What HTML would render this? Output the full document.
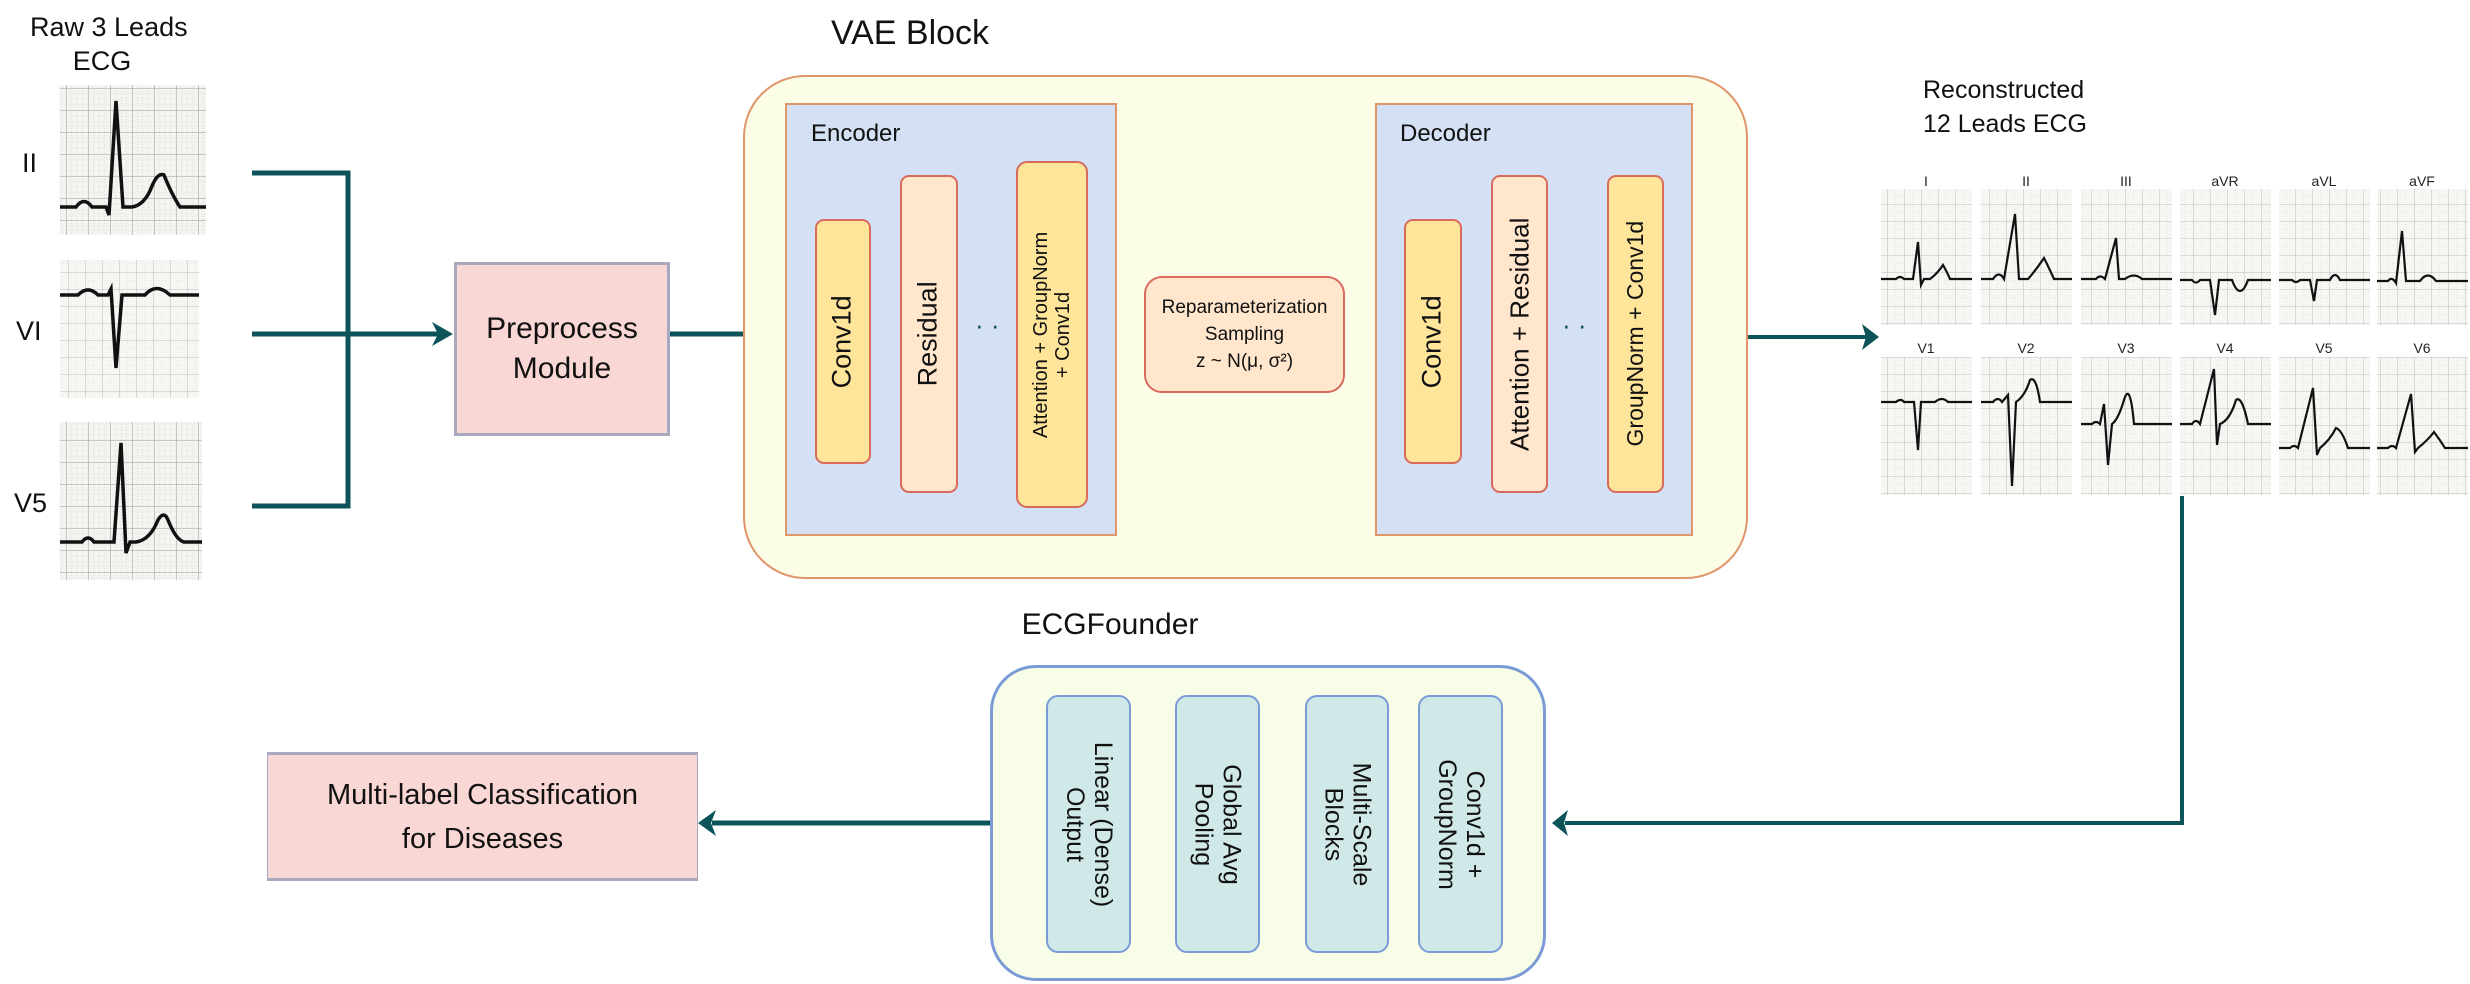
<!DOCTYPE html>
<html><head><meta charset="utf-8"><style>
body{margin:0;width:2470px;height:984px;background:#fff;position:relative;overflow:hidden;font-family:"Liberation Sans",sans-serif;color:#111}
.a{position:absolute;box-sizing:border-box}
.t{position:absolute;text-align:center;white-space:nowrap}
.rot{position:absolute;box-sizing:border-box;display:flex;align-items:center;justify-content:center}
.rot span{display:block;transform:rotate(-90deg);white-space:nowrap;text-align:center;line-height:1.1}
.rotc span{transform:rotate(90deg)}
</style></head><body>
<svg class="a" style="left:0;top:0" width="2470" height="984" viewBox="0 0 2470 984">
<defs>
<pattern id="g" width="22" height="22" patternUnits="userSpaceOnUse">
<rect width="22" height="22" fill="#f4f4f0"/>
<path d="M0 0H22M0 0V22" stroke="#999" stroke-width="1"/>
<path d="M0 5.5H22M0 11H22M0 16.5H22M5.5 0V22M11 0V22M16.5 0V22" stroke="#ccc" stroke-width="0.6" stroke-dasharray="1 2"/>
</pattern>
<pattern id="g2" width="17" height="17" patternUnits="userSpaceOnUse">
<rect width="17" height="17" fill="#f6f6f3"/>
<path d="M0 0H17M0 0V17" stroke="#aaa" stroke-width="0.8"/>
<path d="M0 8.5H17M8.5 0V17" stroke="#d4d4d4" stroke-width="0.5" stroke-dasharray="1 2"/>
</pattern>
</defs>
<rect x="60" y="85" width="146" height="150" fill="url(#g)"/>
<path d="M60 207 H76 Q84 196 92 207 H106 L109 215 L116 101 L123 207 H132 Q145 205 152 186 Q158 172 164 175 Q172 195 180 207 H206" fill="none" stroke="#111" stroke-width="3.5"/>
<rect x="60" y="260" width="139" height="138" fill="url(#g2)"/>
<path d="M60 295 H78 Q88 285 98 295 H108 L111 289 L116 368 L122 295 H145 Q156 282 170 295 H199" fill="none" stroke="#111" stroke-width="3.5"/>
<rect x="60" y="422" width="142" height="158" fill="url(#g)"/>
<path d="M60 542 H82 Q88 534 94 542 H114 L121 443 L126 553 L130 542 H136 Q150 540 158 520 Q164 510 168 520 Q176 540 184 542 H202" fill="none" stroke="#111" stroke-width="3.5"/>
<g stroke="#0c5459" stroke-width="5" fill="none">
<path d="M252 173 H348 V506 H252"/>
<path d="M252 334 H440"/>
<path d="M670 334 H774"/>
<path d="M1117 334 H1138" stroke-width="3"/>
<path d="M1345 334 H1368" stroke-width="3"/>
<path d="M1693 337 H1868" stroke-width="4"/>
<path d="M2182 496 V823 H1565" stroke-width="4"/>
<path d="M990 823 H712" stroke-width="5"/>
</g>
<g fill="#0c5459">
<path d="M453 334 L432 322 L438 334 L432 346Z"/>
<path d="M785 334 L767 321 L772 334 L767 347Z"/>
<path d="M1147 334 L1136 326 L1139 334 L1136 342Z"/>
<path d="M1376 334 L1365 326 L1368 334 L1365 342Z"/>
<path d="M1879 337 L1862 324 L1866 337 L1862 350Z"/>
<path d="M1552 823 L1568 810 L1564 823 L1568 836Z"/>
<path d="M698 823 L716 810 L711 823 L716 836Z"/>
</g>
<g>
<rect x="1881" y="189" width="91" height="136" fill="url(#g2)"/>
<rect x="1981" y="189" width="91" height="136" fill="url(#g2)"/>
<rect x="2081" y="189" width="91" height="136" fill="url(#g2)"/>
<rect x="2180" y="189" width="91" height="136" fill="url(#g2)"/>
<rect x="2279" y="189" width="91" height="136" fill="url(#g2)"/>
<rect x="2377" y="189" width="91" height="136" fill="url(#g2)"/>
<rect x="1881" y="357" width="91" height="138" fill="url(#g2)"/>
<rect x="1981" y="357" width="91" height="138" fill="url(#g2)"/>
<rect x="2081" y="357" width="91" height="138" fill="url(#g2)"/>
<rect x="2180" y="357" width="91" height="138" fill="url(#g2)"/>
<rect x="2279" y="357" width="91" height="138" fill="url(#g2)"/>
<rect x="2377" y="357" width="91" height="138" fill="url(#g2)"/>
</g>
<g fill="none" stroke="#111" stroke-width="2.2">
<path d="M1881 279 H1896 Q1900 275 1904 279 H1913 L1918 242 L1921 285 L1924 279 H1930 Q1937 274 1943 265 Q1948 274 1950 279 H1972"/>
<path d="M1981 279 H1993 Q1999 270 2004 279 L2015 214 L2019 279 H2028 Q2036 270 2044 258 Q2050 270 2054 279 H2072"/>
<path d="M2081 279 H2096 Q2100 274 2105 279 L2116 238 L2119 279 H2125 Q2134 272 2142 279 H2172"/>
<path d="M2180 280 H2192 Q2196 285 2200 280 H2210 L2215 315 L2219 280 H2232 Q2240 302 2248 280 H2271"/>
<path d="M2279 280 H2292 Q2296 284 2300 280 H2310 L2314 301 L2317 280 H2330 Q2335 270 2340 280 H2370"/>
<path d="M2377 281 H2388 Q2392 276 2396 283 L2402 231 L2406 281 H2420 Q2428 270 2436 281 H2468"/>
<path d="M1881 402 H1896 Q1901 398 1904 402 H1914 L1918 450 L1921 402 H1935 Q1942 396 1948 402 H1972"/>
<path d="M1981 402 H1993 Q1998 396 2002 402 L2008 395 L2012 486 L2016 402 Q2025 396 2030 380 Q2036 375 2040 402 H2072"/>
<path d="M2081 424 H2092 Q2096 420 2100 424 L2104 404 L2108 465 L2112 424 Q2118 420 2124 400 Q2130 380 2134 424 H2172"/>
<path d="M2180 424 H2192 Q2196 418 2200 424 L2214 369 L2217 445 L2220 424 Q2230 420 2236 400 Q2242 395 2248 424 H2271"/>
<path d="M2279 448 H2290 Q2294 444 2298 448 L2313 388 L2317 455 L2320 448 Q2330 440 2336 428 Q2342 430 2348 448 H2370"/>
<path d="M2377 448 H2388 Q2392 444 2396 448 L2411 394 L2415 452 L2418 448 Q2428 440 2434 432 Q2440 440 2445 448 H2468"/>
</g>
<g font-size="14" text-anchor="middle" fill="#222" font-family="Liberation Sans,sans-serif">
<text x="1926" y="186">I</text><text x="2026" y="186">II</text><text x="2126" y="186">III</text><text x="2225" y="186">aVR</text><text x="2324" y="186">aVL</text><text x="2422" y="186">aVF</text>
<text x="1926" y="353">V1</text><text x="2026" y="353">V2</text><text x="2126" y="353">V3</text><text x="2225" y="353">V4</text><text x="2324" y="353">V5</text><text x="2422" y="353">V6</text>
</g>
</svg>

<div class="t" style="left:30px;top:10px;width:144px;font-size:27px;line-height:34px">Raw 3 Leads<br>ECG</div>
<div class="t" style="left:22px;top:148px;font-size:27px">II</div>
<div class="t" style="left:16px;top:316px;font-size:27px">VI</div>
<div class="t" style="left:14px;top:488px;font-size:27px">V5</div>

<div class="a" style="left:454px;top:262px;width:216px;height:174px;background:#f8d7d4;border:3px solid #a8a8bf;display:flex;align-items:center;justify-content:center;text-align:center;font-size:30px;line-height:40px">Preprocess<br>Module</div>

<div class="t" style="left:820px;top:14px;width:180px;font-size:34px">VAE Block</div>
<div class="a" style="left:743px;top:75px;width:1005px;height:504px;background:#fbfde7;border:2px solid #e0956a;border-radius:62px"></div>

<div class="a" style="left:785px;top:103px;width:332px;height:433px;background:#d4e0f3;border:2px solid #e0956a"></div>
<div class="t" style="left:811px;top:120px;font-size:24px">Encoder</div>
<div class="rot" style="left:815px;top:219px;width:56px;height:245px;background:#ffe599;border:2px solid #d86b5e;border-radius:9px;font-size:27px"><span>Conv1d</span></div>
<div class="rot" style="left:900px;top:175px;width:58px;height:318px;background:#ffe6cc;border:2px solid #d86b5e;border-radius:9px;font-size:27px"><span>Residual</span></div>
<div class="t" style="left:975px;top:310px;font-size:26px;color:#0c5459">· ·</div>
<div class="rot" style="left:1016px;top:161px;width:72px;height:347px;background:#ffe599;border:2px solid #d86b5e;border-radius:11px;font-size:20px"><span>Attention + GroupNorm<br>+ Conv1d</span></div>

<div class="a" style="left:1144px;top:276px;width:201px;height:117px;background:#ffe6cc;border:2px solid #d86b5e;border-radius:18px;display:flex;align-items:center;justify-content:center;text-align:center;font-size:19px;line-height:27px">Reparameterization<br>Sampling<br>z ~ N(μ, σ²)</div>

<div class="a" style="left:1375px;top:103px;width:318px;height:433px;background:#d4e0f3;border:2px solid #e0956a"></div>
<div class="t" style="left:1400px;top:120px;font-size:24px">Decoder</div>
<div class="rot" style="left:1404px;top:219px;width:58px;height:245px;background:#ffe599;border:2px solid #d86b5e;border-radius:9px;font-size:27px"><span>Conv1d</span></div>
<div class="rot" style="left:1491px;top:175px;width:57px;height:318px;background:#ffe6cc;border:2px solid #d86b5e;border-radius:9px;font-size:26px"><span>Attention + Residual</span></div>
<div class="t" style="left:1562px;top:310px;font-size:26px;color:#0c5459">· ·</div>
<div class="rot" style="left:1607px;top:175px;width:57px;height:318px;background:#ffe599;border:2px solid #d86b5e;border-radius:9px;font-size:23px"><span>GroupNorm + Conv1d</span></div>

<div class="t" style="left:1923px;top:73px;font-size:25px;line-height:34px;text-align:left">Reconstructed<br>12 Leads ECG</div>

<div class="t" style="left:1000px;top:608px;width:220px;font-size:30px">ECGFounder</div>
<div class="a" style="left:990px;top:665px;width:556px;height:316px;background:#f8fde8;border:3px solid #7a9bd6;border-radius:46px"></div>
<div class="rot rotc" style="left:1046px;top:695px;width:85px;height:258px;background:#d0e8e8;border:2px solid #7a9bd6;border-radius:12px;font-size:25px"><span>Linear (Dense)<br>Output</span></div>
<div class="rot rotc" style="left:1175px;top:695px;width:85px;height:258px;background:#d0e8e8;border:2px solid #7a9bd6;border-radius:12px;font-size:25px"><span>Global Avg<br>Pooling</span></div>
<div class="rot rotc" style="left:1305px;top:695px;width:84px;height:258px;background:#d0e8e8;border:2px solid #7a9bd6;border-radius:12px;font-size:25px"><span>Multi-Scale<br>Blocks</span></div>
<div class="rot rotc" style="left:1418px;top:695px;width:85px;height:258px;background:#d0e8e8;border:2px solid #7a9bd6;border-radius:12px;font-size:25px"><span>Conv1d +<br>GroupNorm</span></div>

<div class="a" style="left:267px;top:752px;width:431px;height:129px;background:#f8d7d4;border:3px solid #a8a8bf;border-left-width:1px;border-right-width:1px;display:flex;align-items:center;justify-content:center;text-align:center;font-size:29px;line-height:44px">Multi-label Classification<br>for Diseases</div>
</body></html>
